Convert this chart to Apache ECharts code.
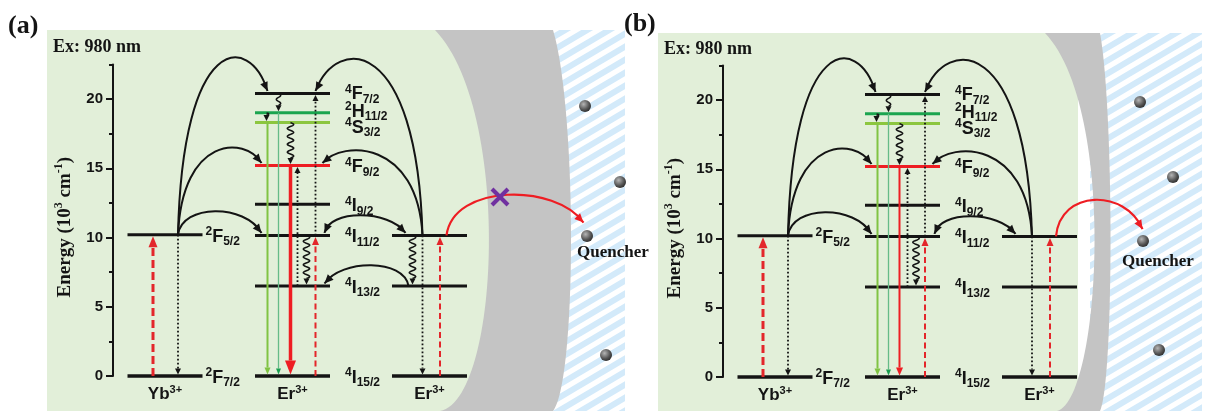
<!DOCTYPE html>
<html><head><meta charset="utf-8">
<script src="https://cdn.jsdelivr.net/npm/echarts@6/dist/echarts.min.js"></script>
<style>html,body{margin:0;padding:0;background:#fff}#c{width:1209px;height:414px}</style>
</head><body><div id="c"></div>
<script>
// ---------------- DATA ----------------
const energyTicks = [0, 5, 10, 15, 20];
const energyMinorTicks = [2.5, 7.5, 12.5, 17.5, 22.5];
const energyMax = 22.5;
const panelLabels = ['(a)', '(b)'];
const excitationText = 'Ex: 980 nm';
const quencherText = 'Quencher';
const ionNames = [['Yb', '3+'], ['Er', '3+'], ['Er', '3+']];
const ybTerms = [['2', 'F', '7/2'], ['2', 'F', '5/2']];
const ybEnergies = [0, 10.2];
const erTerms = [['4','I','15/2'], ['4','I','13/2'], ['4','I','11/2'], ['4','I','9/2'],
                 ['4','F','9/2'], ['4','S','3/2'], ['2','H','11/2'], ['4','F','7/2']];
const erEnergies = [0, 6.5, 10.15, 12.4, 15.2, 18.3, 19.0, 20.4];
const er2Energies = [0, 6.5, 10.15];
// transitions: [ion column, x offset, E from, E to, kind]
const transitionsA = [
  [0,-12, 0, 10.2, 'pumpYb'], [0, 13, 10.2, 0, 'dot'],
  [1,-25, 18.3, 0, 'green'], [1,-14, 19.0, 0, 'teal'], [1,-2, 15.2, 0, 'redThick'],
  [1, 5, 6.5, 15.2, 'dot'], [1, 23, 10.15, 20.4, 'dot'], [1, 23, 0, 10.15, 'pumpEr'],
  [1,-14, 20.4, 19.0, 'wave'], [1,-26, 19.0, 18.3, 'wave'], [1,-2, 18.3, 15.2, 'wave'], [1, 14, 10.15, 6.5, 'wave'],
  [2,-17, 10.15, 6.5, 'wave'], [2,-7, 10.15, 0, 'dot'], [2, 10.5, 0, 10.15, 'pumpEr']
];
const transitionsB = [
  [0,-12, 0, 10.2, 'pumpYb'], [0, 13, 10.2, 0, 'dot'],
  [1,-25, 18.3, 0, 'green'], [1,-14, 19.0, 0, 'teal'], [1,-3, 15.2, 0, 'redThin'],
  [1, 5, 6.5, 15.2, 'dot'], [1, 22.5, 10.15, 20.4, 'dot'], [1, 22.5, 0, 10.15, 'pumpEr'],
  [1,-14, 20.4, 19.0, 'wave'], [1,-26, 19.0, 18.3, 'wave'], [1,-3, 18.3, 15.2, 'wave'], [1, 13.5, 10.15, 6.5, 'wave'],
  [2,-7.5, 10.15, 0, 'dot'], [2, 10.5, 0, 10.15, 'pumpEr']
];
// energy-transfer arcs: [from col, dx, E, to col, dx, E, peak E, heads]
const arcsA = [
  [0,13,10.2, 1,-25,20.4, 23.0, 1],
  [0,13,10.2, 1,-31,15.2, 16.5, 1],
  [0,13,10.2, 1,-31,10.15, 11.9, 1],
  [2,-7,10.15, 1,23,20.4, 22.9, 1],
  [2,-7,10.15, 1,30,15.2, 16.3, 1],
  [1,32,10.15, 2,-24,10.15, 11.6, 2],
  [2,-21,6.5, 1,32,6.5, 8.0, 1]
];
const arcsB = [
  [0,13,10.2, 1,-27,20.4, 23.0, 1],
  [0,13,10.2, 1,-31,15.2, 16.5, 1],
  [0,13,10.2, 1,-31,10.15, 11.9, 1],
  [2,-7.5,10.15, 1,22.5,20.4, 22.9, 1],
  [2,-7.5,10.15, 1,30,15.2, 16.3, 1],
  [1,32,10.15, 2,-24,10.15, 11.6, 2]
];
const quenchArcA = [[2,17,10.15, 2,154,10.9, 13.1, 1]];
const quenchArcB = [[2,16.5,10.15, 2,103,10.5, 12.8, 1]];

// ---------------- LAYOUT / STYLE ----------------
const SANS = '"Liberation Sans", Arial, sans-serif';
const SERIF = '"Liberation Serif", "Times New Roman", serif';
const INK = '#141414';
const colCenter = [52, 179.5, 316.5];
const halfW = 37.5;
const levelColors = {'4F9/2':'#ee1d23', '4S3/2':'#8cc63f', '2H11/2':'#1ba54f'};
const labelDy = {'4S3/2':5, '2H11/2':-1, '4F7/2':1};
const S = {
  pumpYb: {color:'#e3262b', w:3, dash:[8,4], hl:11, hw:9},
  pumpEr: {color:'#e3262b', w:2, dash:[6,3.5], hl:8, hw:7},
  dot: {color:INK, w:1.8, dash:[1.8,2.2], hl:6, hw:6},
  green: {color:'#80c343', w:2, dash:null, hl:7, hw:6},
  teal: {color:'#66bb88', w:1.3, dash:null, hl:6, hw:5, head:'#1a9f50'},
  redThick: {color:'#ee1d23', w:3.5, dash:null, hl:14, hw:11},
  redThin: {color:'#ee1d23', w:2, dash:null, hl:8, hw:7},
  wave: {color:INK, w:1.5, hl:6, hw:6, wave:true}
};
const termRich = {
  s: {fontSize:12, fontWeight:'bold', fontFamily:SANS, fill:INK, verticalAlign:'top', lineHeight:14},
  m: {fontSize:18, fontWeight:'bold', fontFamily:SANS, fill:INK, lineHeight:22},
  b: {fontSize:12, fontWeight:'bold', fontFamily:SANS, fill:INK, verticalAlign:'bottom', lineHeight:14}
};
const ionRich = {
  m: {fontSize:17, fontWeight:'bold', fontFamily:SANS, fill:INK, lineHeight:20},
  s: {fontSize:11, fontWeight:'bold', fontFamily:SANS, fill:INK, verticalAlign:'top', lineHeight:12}
};

function levelItems() {
  const items = [];
  ybEnergies.forEach((E,i) => items.push({col:0, E, term:ybTerms[i], gap:3}));
  erEnergies.forEach((E,i) => items.push({col:1, E, term:erTerms[i], gap:15}));
  er2Energies.forEach(E => items.push({col:2, E, term:null}));
  return items;
}

function levelRender(items) {
  return function (params, api) {
    const d = items[params.dataIndex];
    const c = colCenter[api.value(0)];
    const E = api.value(1);
    const p1 = api.coord([c - halfW, E]), p2 = api.coord([c + halfW, E]);
    const key = d.term ? d.term.join('') : '';
    const children = [{type:'line', shape:{x1:p1[0], y1:p1[1], x2:p2[0], y2:p2[1]},
      style:{stroke: levelColors[key] || INK, lineWidth: E === 0 ? 3.5 : 3}}];
    if (d.term) {
      children.push({type:'text', x: p2[0] + d.gap, y: p2[1] + (labelDy[key] !== undefined ? labelDy[key] : 2),
        style:{text:'{s|' + d.term[0] + '}{m|' + d.term[1] + '}{b|' + d.term[2] + '}', rich: termRich,
          align:'left', verticalAlign:'middle'}});
    }
    if (E === 0) {
      const ion = ionNames[api.value(0)];
      children.push({type:'text', x: (p1[0] + p2[0]) / 2, y: p1[1] + 18,
        style:{text:'{m|' + ion[0] + '}{s|' + ion[1] + '}', rich: ionRich, align:'center', verticalAlign:'middle'}});
    }
    return {type:'group', children};
  };
}

function head(tip, dir, L, W, fill) {
  const n = [-dir[1], dir[0]];
  const b = [tip[0] - dir[0]*L, tip[1] - dir[1]*L];
  return {type:'polygon', shape:{points:[tip, [b[0]+n[0]*W/2, b[1]+n[1]*W/2], [b[0]-n[0]*W/2, b[1]-n[1]*W/2]]},
    style:{fill}};
}

function transRender(list) {
  return function (params, api) {
    const t = list[params.dataIndex];
    const st = S[t[4]];
    const x = colCenter[api.value(0)] + t[1];
    const a = api.coord([x, api.value(1)]), b = api.coord([x, api.value(2)]);
    const dir = b[1] > a[1] ? 1 : -1;
    const tip = [b[0], b[1] - dir*1.5];
    const base = [tip[0], tip[1] - dir*st.hl];
    const children = [];
    if (st.wave) {
      const len = Math.abs(base[1] - a[1]);
      const nHalf = Math.max(1, Math.round(len / 4));
      const P = 2 * len / nHalf;
      const A = len < 15 ? 2.2 : 3.2;
      const pts = [];
      const n = Math.max(10, Math.round(len * 2));
      for (let i = 0; i <= n; i++) {
        const s = i / n * len;
        pts.push([a[0] + A * Math.sin(2 * Math.PI * s / P), a[1] + dir * s]);
      }
      children.push({type:'polyline', shape:{points:pts}, style:{stroke:st.color, lineWidth:st.w, fill:null}});
    } else {
      children.push({type:'line', shape:{x1:a[0], y1:a[1], x2:base[0], y2:base[1]},
        style:{stroke:st.color, lineWidth:st.w, lineDash:st.dash || null}});
    }
    children.push(head(tip, [0, dir], st.hl, st.hw, st.head || st.color));
    return {type:'group', children};
  };
}

function bez(p0, p1, p2, p3, t) { const u = 1 - t; return u*u*u*p0 + 3*u*u*t*p1 + 3*u*t*t*p2 + t*t*t*p3; }
function minY(y0, cy, y3) { let m = Infinity; for (let i = 0; i <= 80; i++) { const y = bez(y0, cy, cy, y3, i/80); if (y < m) m = y; } return m; }

function arcRender(list, color, lw) {
  return function (params, api) {
    const r = list[params.dataIndex];
    const p0 = api.coord([colCenter[r[0]] + r[1], r[2]]);
    const p3 = api.coord([colCenter[r[3]] + r[4], r[5]]);
    p3[1] -= 2.5;
    if (r[7] === 2) p0[1] -= 2.5;
    const peakY = api.coord([0, r[6]])[1];
    const dx = p3[0] - p0[0];
    const c1x = p0[0] + dx * 0.05, c2x = p3[0] - dx * 0.2;
    let lo = peakY - 500, hi = peakY;
    for (let it = 0; it < 50; it++) {
      const mid = (lo + hi) / 2;
      if (minY(p0[1], mid, p3[1]) < peakY) lo = mid; else hi = mid;
    }
    const cy = (lo + hi) / 2;
    const children = [{type:'bezierCurve', shape:{x1:p0[0], y1:p0[1], x2:p3[0], y2:p3[1],
      cpx1:c1x, cpy1:cy, cpx2:c2x, cpy2:cy}, style:{stroke:color, lineWidth:lw, fill:null}}];
    const mk = (t) => [bez(p0[0], c1x, c2x, p3[0], t), bez(p0[1], cy, cy, p3[1], t)];
    const dirTo = (from, to) => { const vx = to[0]-from[0], vy = to[1]-from[1]; const l = Math.hypot(vx, vy); return [vx/l, vy/l]; };
    children.push(head(p3, dirTo(mk(0.9), p3), 9, 8, color));
    if (r[7] === 2) children.push(head(p0, dirTo(mk(0.1), p0), 9, 8, color));
    return {type:'group', children};
  };
}

// ---------------- BACKGROUND ----------------
function hatchPattern() {
  const W = 22, H = 13, c = document.createElement('canvas');
  c.width = W; c.height = H;
  const g = c.getContext('2d');
  g.fillStyle = '#ffffff'; g.fillRect(0, 0, W, H);
  g.strokeStyle = '#d3eafa'; g.lineWidth = 6;
  for (let n = -1; n <= 1; n++) {
    g.beginPath(); g.moveTo(-3, H*(1+n) + 3*H/W); g.lineTo(W+3, H*n - 3*H/W); g.stroke();
  }
  return c;
}
// shell outline: two cubic curves sampled into a polygon
function shellPoints(l, r) {
  const pts = [];
  for (let i = 0; i <= 60; i++) { const t = i/60; pts.push([bez(l[0][0], l[1][0], l[2][0], l[3][0], t), bez(l[0][1], l[1][1], l[2][1], l[3][1], t)]); }
  for (let i = 60; i >= 0; i--) { const t = i/60; pts.push([bez(r[0][0], r[1][0], r[2][0], r[3][0], t), bez(r[0][1], r[1][1], r[2][1], r[3][1], t)]); }
  return pts;
}
const pat = hatchPattern();
const GREEN = '#e2efd9', GREY = '#c4c4c4';
function ball(x, y) {
  return {type:'circle', z:100, shape:{cx:x, cy:y, r:6},
    style:{fill:new echarts.graphic.RadialGradient(0.38, 0.35, 0.75, [{offset:0, color:'#b5b5b5'}, {offset:0.6, color:'#555'}, {offset:1, color:'#222'}])}};
}
const shellA = shellPoints([[435,30],[512,110],[500,400],[440,411]], [[553,30],[577,110],[577,380],[553,411]]);
const shellB = shellPoints([[1045,33],[1118,110],[1100,400],[1057,411]], [[1100,33],[1114,110],[1114,380],[1100,411]]);
const graphics = [
  {type:'rect', z:-10, shape:{x:47, y:30, width:500, height:381}, style:{fill:GREEN}},
  {type:'rect', z:-10, shape:{x:540, y:30, width:85, height:381}, style:{fill:{image:pat, repeat:'repeat'}}},
  {type:'polygon', z:-9, shape:{points:shellA}, style:{fill:GREY}},
  {type:'rect', z:-10, shape:{x:658, y:33, width:420, height:378}, style:{fill:GREEN}},
  {type:'rect', z:-10, shape:{x:1090, y:33, width:112, height:378}, style:{fill:{image:pat, repeat:'repeat'}}},
  {type:'polygon', z:-9, shape:{points:shellB}, style:{fill:GREY}},
  {type:'text', z:100, x:8, y:26, style:{text:panelLabels[0], font:'bold 26px ' + SERIF, fill:INK, verticalAlign:'middle'}},
  {type:'text', z:100, x:624, y:24, style:{text:panelLabels[1], font:'bold 26px ' + SERIF, fill:INK, verticalAlign:'middle'}},
  {type:'text', z:100, x:53, y:47, style:{text:excitationText, font:'bold 18px ' + SERIF, fill:INK, verticalAlign:'middle'}},
  {type:'text', z:100, x:664, y:49, style:{text:excitationText, font:'bold 18px ' + SERIF, fill:INK, verticalAlign:'middle'}},
  {type:'text', z:100, x:613, y:253, style:{text:quencherText, font:'bold 17px ' + SERIF, fill:INK, align:'center', verticalAlign:'middle'}},
  {type:'text', z:100, x:1158, y:262, style:{text:quencherText, font:'bold 17px ' + SERIF, fill:INK, align:'center', verticalAlign:'middle'}},
  ball(585,106), ball(620,182), ball(587,236), ball(606,355),
  ball(1140,102), ball(1173,177), ball(1143,241), ball(1159,350),
  {type:'line', z:100, shape:{x1:492, y1:189, x2:508, y2:205}, style:{stroke:'#7030a0', lineWidth:4}},
  {type:'line', z:100, shape:{x1:492, y1:205, x2:508, y2:189}, style:{stroke:'#7030a0', lineWidth:4}}
];

// ---------------- CHART ----------------
const chart = echarts.init(document.getElementById('c'));
const grids = [{left:113, top:64.4, width:520, height:311.6}, {left:723, top:65.4, width:480, height:311.6}];
const xAxes = grids.map((g, i) => ({gridIndex:i, type:'value', min:0, max:g.width, show:false}));
const yAxes = [];
[0, 1].forEach(p => {
  yAxes.push({gridIndex:p, type:'value', min:0, max:energyMax, position:'left',
    axisLine:{show:true, lineStyle:{color:INK, width:2}},
    axisTick:{show:true, length:7, customValues:energyTicks, lineStyle:{color:INK, width:2}},
    axisLabel:{customValues:energyTicks, fontSize:15, fontWeight:'bold', fontFamily:SANS, color:INK, margin:10},
    splitLine:{show:false},
    name:'{t|Energy (10}{u|3}{t| cm}{u|-1}{t|)}', nameLocation:'middle', nameGap:36, nameRotate:90,
    nameTextStyle:{padding:[0,0,0,-14], rich:{
      t:{fontFamily:SERIF, fontWeight:'bold', fontSize:19, color:INK, lineHeight:24},
      u:{fontFamily:SERIF, fontWeight:'bold', fontSize:12, color:INK, verticalAlign:'top', lineHeight:14}}}
  });
  yAxes.push({gridIndex:p, type:'value', min:0, max:energyMax, position:'left',
    axisLine:{show:false}, axisLabel:{show:false}, splitLine:{show:false},
    axisTick:{show:true, length:4, customValues:energyMinorTicks, lineStyle:{color:INK, width:2}}});
});

const series = [];
const panelData = [
  {trans:transitionsA, arcs:arcsA, quench:quenchArcA},
  {trans:transitionsB, arcs:arcsB, quench:quenchArcB}
];
panelData.forEach((pd, p) => {
  const items = levelItems();
  const base = {type:'custom', coordinateSystem:'cartesian2d', xAxisIndex:p, yAxisIndex:2*p, silent:true, animation:false, clip:false};
  series.push(Object.assign({}, base, {z:3, data: items.map(d => [d.col, d.E]), renderItem: levelRender(items)}));
  series.push(Object.assign({}, base, {z:4, data: pd.trans.map(t => [t[0], t[2], t[3]]), renderItem: transRender(pd.trans)}));
  series.push(Object.assign({}, base, {z:4, data: pd.arcs.map(r => [r[0], r[2]]), renderItem: arcRender(pd.arcs, INK, 2)}));
  series.push(Object.assign({}, base, {z:4, data: pd.quench.map(r => [r[0], r[2]]), renderItem: arcRender(pd.quench, '#ee1d23', 2.2)}));
});

chart.setOption({
  animation:false,
  backgroundColor:'#ffffff',
  grid: grids,
  xAxis: xAxes,
  yAxis: yAxes,
  graphic: graphics,
  series
});
</script>
</body></html>
